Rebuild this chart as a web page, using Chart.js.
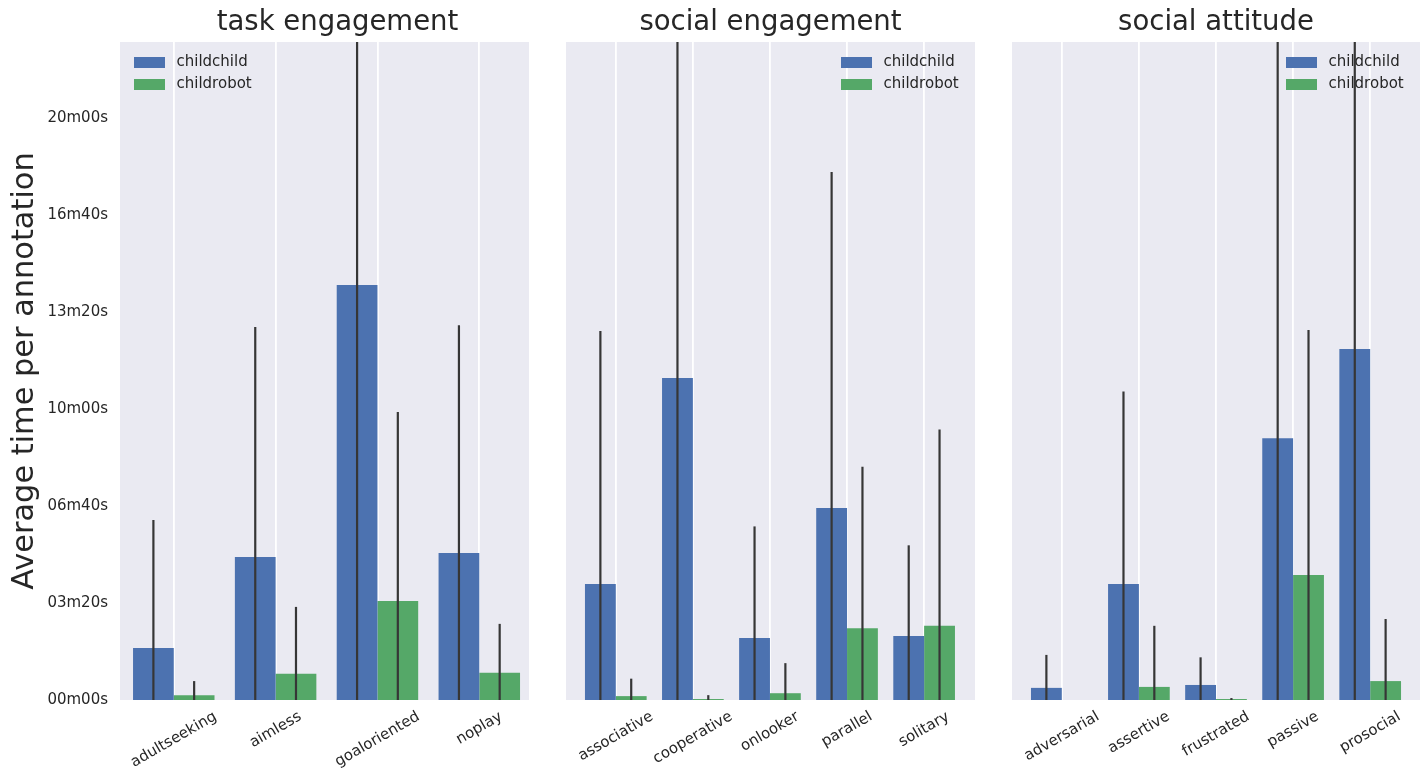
<!DOCTYPE html>
<html><head><meta charset="utf-8">
<script src="https://cdn.jsdelivr.net/npm/chart.js@4.4.1/dist/chart.umd.min.js"></script>
<style>
html,body{margin:0;padding:0;background:#fff;width:1426px;height:774px;overflow:hidden;}
canvas{position:absolute;top:0;}
</style></head><body>
<canvas id="c1" width="535" height="774" style="left:0px"></canvas>
<canvas id="c2" width="441" height="774" style="left:540px"></canvas>
<canvas id="c3" width="436" height="774" style="left:990px"></canvas>
<script>
// ---- data (seconds) ----
const seriesNames = ['childchild', 'childrobot'];
const seriesColors = ['#4C72B0', '#55A868'];

const panelTitles = ['task engagement', 'social engagement', 'social attitude'];

const taskCategories = ['adultseeking', 'aimless', 'goaloriented', 'noplay'];
const taskChildChild = [107, 295, 856, 303];
const taskChildChildErr = [264, 474, 900, 470];
const taskChildRobot = [10, 54, 204, 56];
const taskChildRobotErr = [29, 138, 390, 101];

const socialEngCategories = ['associative', 'cooperative', 'onlooker', 'parallel', 'solitary'];
const socialEngChildChild = [239, 664, 128, 396, 132];
const socialEngChildChildErr = [522, 800, 230, 693, 187];
const socialEngChildRobot = [8, 2, 14, 148, 153];
const socialEngChildRobotErr = [36, 8, 62, 333, 405];

const attitudeCategories = ['adversarial', 'assertive', 'frustrated', 'passive', 'prosocial'];
const attitudeChildChild = [25, 239, 31, 540, 724];
const attitudeChildChildErr = [68, 397, 57, 900, 800];
const attitudeChildRobot = [null, 27, 2, 258, 39];
const attitudeChildRobotErr = [null, 126, 2, 505, 128];

const yTickValues = [0, 200, 400, 600, 800, 1000, 1200];
const yTickLabels = ['00m00s', '03m20s', '06m40s', '10m00s', '13m20s', '16m40s', '20m00s'];
const yMax = 1357;
const yAxisTitle = 'Average time per annotation';

const FONT = "'DejaVu Sans', 'Liberation Sans', sans-serif";
const TEXT = '#262626';

// ---- plugins ----
const plotBg = {
  id: 'plotBg',
  beforeDraw(chart) {
    const a = chart.chartArea, ctx = chart.ctx;
    ctx.save();
    ctx.fillStyle = '#EAEAF2';
    ctx.fillRect(a.left, a.top, a.right - a.left, a.bottom - a.top);
    ctx.restore();
  }
};

const titleShift = {
  id: 'titleShift',
  afterLayout(chart, args, opts) {
    const dx = opts.dx || 0;
    if (chart.titleBlock && dx) {
      chart.titleBlock.left += dx;
      chart.titleBlock.right += dx;
    }
  }
};

const errorBars = {
  id: 'errorBars',
  afterDatasetsDraw(chart) {
    const ctx = chart.ctx, a = chart.chartArea, ys = chart.scales.y;
    ctx.save();
    ctx.beginPath();
    ctx.rect(a.left, a.top, a.right - a.left, a.bottom - a.top);
    ctx.clip();
    ctx.strokeStyle = '#363636';
    ctx.lineWidth = 2.2;
    chart.data.datasets.forEach((ds, d) => {
      const meta = chart.getDatasetMeta(d);
      ds.data.forEach((pt, i) => {
        const err = ds.errors[i];
        if (pt.y == null || err == null) return;
        const el = meta.data[i];
        const y1 = ys.getPixelForValue(pt.y - err);
        const y2 = ys.getPixelForValue(pt.y + err);
        ctx.beginPath();
        ctx.moveTo(el.x, y1);
        ctx.lineTo(el.x, y2);
        ctx.stroke();
      });
    });
    ctx.restore();
  }
};

const rotatedXLabels = {
  id: 'rotatedXLabels',
  afterDraw(chart) {
    const ctx = chart.ctx, xs = chart.scales.x, a = chart.chartArea;
    const cats = chart.data.labels;
    ctx.save();
    ctx.font = '15px ' + FONT;
    ctx.fillStyle = TEXT;
    ctx.textAlign = 'center';
    ctx.textBaseline = 'middle';
    const ang = 30 * Math.PI / 180;
    cats.forEach((c, i) => {
      const x = xs.getPixelForValue(i);
      const w = ctx.measureText(c).width;
      const boxH = w * Math.sin(ang) + 17.5 * Math.cos(ang);
      const y = a.bottom + 8 + boxH / 2;
      ctx.save();
      ctx.translate(x, y);
      ctx.rotate(-ang);
      ctx.fillText(c, 0, 0);
      ctx.restore();
    });
    ctx.restore();
  }
};

const innerLegend = {
  id: 'innerLegend',
  afterDraw(chart, args, opts) {
    const ctx = chart.ctx, a = chart.chartArea;
    const left = opts.side === 'left' ? a.left + 14 : a.right - 134;
    ctx.save();
    ctx.font = '15px ' + FONT;
    ctx.textAlign = 'left';
    ctx.textBaseline = 'middle';
    chart.data.datasets.forEach((ds, d) => {
      const cy = a.top + 20.5 + d * 22;
      ctx.fillStyle = ds.backgroundColor;
      ctx.fillRect(left, cy - 5.5, 31, 11);
      ctx.fillStyle = TEXT;
      ctx.fillText(ds.label, left + 42.5, cy);
    });
    ctx.restore();
  }
};

function makePanel(id, title, cats, cc, ccErr, cr, crErr, xMin, xMax, side, showY, pad, titleDx) {
  const build = (vals) => vals.map((v, i) => ({ x: i, y: v }));
  return new Chart(document.getElementById(id), {
    type: 'bar',
    data: {
      labels: cats,
      datasets: [
        { label: seriesNames[0], data: build(cc), errors: ccErr, backgroundColor: seriesColors[0], borderWidth: 0,
          categoryPercentage: 0.8, barPercentage: 1.0 },
        { label: seriesNames[1], data: build(cr), errors: crErr, backgroundColor: seriesColors[1], borderWidth: 0,
          categoryPercentage: 0.8, barPercentage: 1.0 }
      ]
    },
    options: {
      responsive: false,
      animation: false,
      devicePixelRatio: 1,
      events: [],
      layout: { padding: pad },
      plugins: {
        legend: { display: false },
        tooltip: { enabled: false },
        title: {
          display: true, text: title, fullSize: false, color: TEXT,
          font: { family: FONT, size: 27.5, weight: 'normal', lineHeight: 1.2 },
          padding: { top: 6, bottom: 3 }
        },
        titleShift: { dx: titleDx },
        innerLegend: { side: side }
      },
      scales: {
        x: {
          type: 'linear', min: xMin, max: xMax, offset: false,
          grid: { color: '#ffffff', lineWidth: 1.8, drawTicks: false, offset: false },
          border: { display: false },
          afterBuildTicks: (s) => { s.ticks = cats.map((c, i) => ({ value: i })); },
          ticks: { display: false },
          afterFit: (s) => { s.height = 74; }
        },
        y: {
          type: 'linear', min: 0, max: yMax, display: showY,
          grid: { display: false, drawTicks: false },
          border: { display: false },
          afterBuildTicks: (s) => { s.ticks = yTickValues.map(v => ({ value: v })); },
          ticks: {
            padding: 12, color: TEXT, font: { family: FONT, size: 15 },
            callback: (v, i) => yTickLabels[i]
          },
          title: {
            display: showY, text: yAxisTitle, color: TEXT,
            font: { family: FONT, size: 30.4, weight: 'normal', lineHeight: 1.2 },
            padding: { top: 7, bottom: 0 }
          },
          afterFit: (s) => { if (showY) s.width = 120; }
        }
      }
    },
    plugins: [plotBg, titleShift, errorBars, rotatedXLabels, innerLegend]
  });
}

makePanel('c1', panelTitles[0], taskCategories, taskChildChild, taskChildChildErr, taskChildRobot, taskChildRobotErr,
  -0.528, 3.488, 'left', true, { left: 0, right: 6, top: 0, bottom: 0 }, 13);
makePanel('c2', panelTitles[1], socialEngCategories, socialEngChildChild, socialEngChildChildErr, socialEngChildRobot, socialEngChildRobotErr,
  -0.646, 4.66, 'right', false, { left: 26, right: 6, top: 0, bottom: 0 }, 0);
makePanel('c3', panelTitles[2], attitudeCategories, attitudeChildChild, attitudeChildChildErr, attitudeChildRobot, attitudeChildRobotErr,
  -0.646, 4.646, 'right', false, { left: 22, right: 6, top: 0, bottom: 0 }, 0);
</script>
</body></html>
